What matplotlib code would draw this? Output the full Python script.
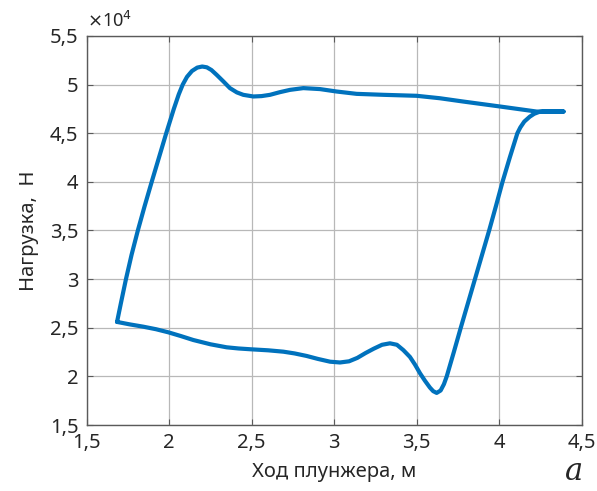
import matplotlib
matplotlib.use("Agg")
import matplotlib.pyplot as plt
from matplotlib.ticker import FixedLocator, FixedFormatter

plt.rcParams['font.family'] = ['Noto Sans', 'DejaVu Sans']

# Loop of plunger travel (m) vs load (x1e4 N)
stroke = [1.684, 1.707, 1.738, 1.772, 1.810, 1.851, 1.894, 1.938, 1.982, 2.028,
          2.058, 2.082, 2.108, 2.138, 2.170, 2.200, 2.228, 2.256, 2.288, 2.330,
          2.368, 2.410, 2.449, 2.510, 2.560, 2.611, 2.670, 2.732, 2.813, 2.914,
          3.015, 3.136, 3.300, 3.500, 3.640, 3.782, 4.005, 4.227, 4.390, 4.265,
          4.240, 4.212, 4.185, 4.152, 4.128, 4.110, 4.064, 4.020, 3.980, 3.939,
          3.896, 3.853, 3.810, 3.767, 3.725, 3.682, 3.665, 3.645, 3.621, 3.600,
          3.580, 3.550, 3.520, 3.490, 3.459, 3.419, 3.380, 3.338, 3.290, 3.240,
          3.190, 3.140, 3.090, 3.035, 2.975, 2.900, 2.833, 2.760, 2.692, 2.600,
          2.500, 2.420, 2.348, 2.250, 2.146, 2.070, 1.995, 1.920, 1.843, 1.760,
          1.684]
load = [2.560, 2.750, 3.000, 3.250, 3.500, 3.750, 4.000, 4.250, 4.500, 4.750,
        4.900, 5.000, 5.080, 5.140, 5.175, 5.186, 5.178, 5.150, 5.100, 5.030,
        4.964, 4.920, 4.895, 4.878, 4.882, 4.895, 4.922, 4.946, 4.964, 4.954,
        4.929, 4.905, 4.895, 4.885, 4.860, 4.826, 4.775, 4.723, 4.723, 4.723,
        4.718, 4.700, 4.670, 4.620, 4.560, 4.500, 4.250, 4.000, 3.750, 3.500,
        3.250, 3.000, 2.750, 2.500, 2.250, 2.000, 1.920, 1.855, 1.830, 1.848,
        1.885, 1.955, 2.032, 2.120, 2.200, 2.270, 2.325, 2.340, 2.325, 2.285,
        2.240, 2.190, 2.155, 2.143, 2.151, 2.180, 2.210, 2.236, 2.254, 2.268,
        2.278, 2.287, 2.299, 2.330, 2.374, 2.415, 2.453, 2.485, 2.511, 2.535,
        2.560]

x_ticks = [1.5, 2.0, 2.5, 3.0, 3.5, 4.0, 4.5]
x_tick_labels = ['1,5', '2', '2,5', '3', '3,5', '4', '4,5']
y_ticks = [1.5, 2.0, 2.5, 3.0, 3.5, 4.0, 4.5, 5.0, 5.5]
y_tick_labels = ['1,5', '2', '2,5', '3', '3,5', '4', '4,5', '5', '5,5']

fig = plt.figure(figsize=(5.97, 4.91), dpi=100)
ax = fig.add_axes([0.1452, 0.1344, 0.8292, 0.7923])

ax.plot(stroke, load, color='#0072BD', lw=3.0, solid_joinstyle='round',
        solid_capstyle='round', zorder=3)

ax.set_xlim(1.5, 4.5)
ax.set_ylim(1.5, 5.5)
ax.xaxis.set_major_locator(FixedLocator(x_ticks))
ax.xaxis.set_major_formatter(FixedFormatter(x_tick_labels))
ax.yaxis.set_major_locator(FixedLocator(y_ticks))
ax.yaxis.set_major_formatter(FixedFormatter(y_tick_labels))

ax.grid(True, color='#b8b8b8', lw=0.9)
ax.set_axisbelow(True)
for s in ax.spines.values():
    s.set_color('#5a5a5a')
    s.set_linewidth(1.0)
ax.tick_params(direction='in', length=4, width=0.8, color='#5a5a5a',
               top=True, right=True, labelsize=14.5, labelcolor='#262626', pad=6)

ax.set_xlabel('Ход плунжера, м', fontsize=14.5, color='#262626', labelpad=6)
ax.set_ylabel('Нагрузка,  Н', fontsize=14.5, color='#262626', labelpad=8)

ax.text(0.0, 1.012, r'$\times$10$^{4}$', transform=ax.transAxes, fontsize=13,
        color='#262626', ha='left', va='bottom')
fig.text(0.962, 0.008, 'а', fontsize=22, style='italic', family='DejaVu Serif',
         color='#262626', ha='center', va='bottom')

fig.savefig('out.png', dpi=100)
